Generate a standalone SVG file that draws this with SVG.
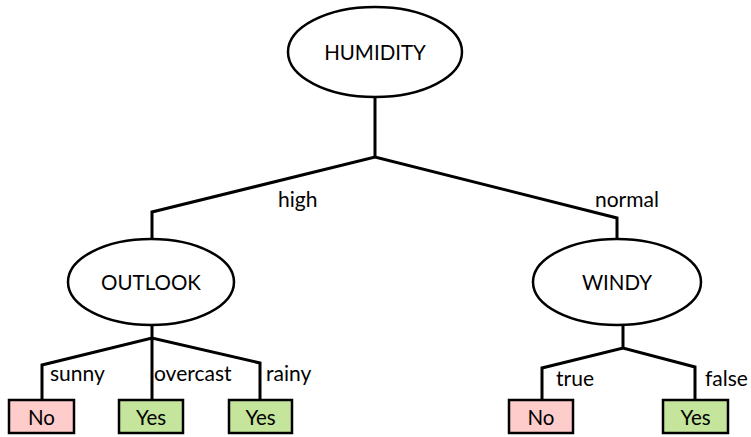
<svg xmlns="http://www.w3.org/2000/svg" width="751" height="437" viewBox="0 0 751 437">
<style>
text{font-family:Lato,"Liberation Sans",sans-serif;fill:#000}
.n{font-size:20.5px;text-anchor:middle;dominant-baseline:central}
.l{font-size:21px}
.e{fill:#fff;stroke:#000;stroke-width:2.5}
.c{fill:none;stroke:#000;stroke-width:3;stroke-linejoin:miter}
.no{fill:#FFCCCC;stroke:#000;stroke-width:2.5}
.yes{fill:#C4E59B;stroke:#000;stroke-width:2.5}
</style>
<g id="connectors">
<polyline class="c" points="375,98 375,157"/>
<polyline class="c" points="152,239 152,212 375,157 617,218 617,240"/>
<polyline class="c" points="42,400 42,365 152,338 260,363 260,400"/>
<polyline class="c" points="152,325 152,400"/>
<polyline class="c" points="623,325 623,348"/>
<polyline class="c" points="542,400 542,368 623,348 695,367 695,400"/>
</g>
<g id="labels">
<text class="l" x="278" y="207">high</text>
<text class="l" x="595" y="207">normal</text>
<text class="l" x="50" y="381">sunny</text>
<text class="l" x="154" y="381">overcast</text>
<text class="l" x="266" y="381">rainy</text>
<text class="l" x="556" y="386">true</text>
<text class="l" x="705" y="386">false</text>
</g>
<g id="humidity"><ellipse class="e" cx="375" cy="52" rx="87" ry="45"/><text class="n" x="375" y="52">HUMIDITY</text></g>
<g id="outlook"><ellipse class="e" cx="151" cy="282" rx="83" ry="43"/><text class="n" x="151" y="282">OUTLOOK</text></g>
<g id="windy"><ellipse class="e" cx="617" cy="282" rx="84" ry="43"/><text class="n" x="617" y="282">WINDY</text></g>
<g id="leaf1"><rect class="no" x="9" y="400" width="65" height="33"/><text class="n" x="41.5" y="416.5">No</text></g>
<g id="leaf2"><rect class="yes" x="119" y="400" width="64" height="33"/><text class="n" x="151" y="416.5">Yes</text></g>
<g id="leaf3"><rect class="yes" x="229" y="400" width="63" height="33"/><text class="n" x="260.5" y="416.5">Yes</text></g>
<g id="leaf4"><rect class="no" x="509" y="400" width="64" height="33"/><text class="n" x="541" y="416.5">No</text></g>
<g id="leaf5"><rect class="yes" x="663" y="400" width="65" height="33"/><text class="n" x="695.5" y="416.5">Yes</text></g>
</svg>
